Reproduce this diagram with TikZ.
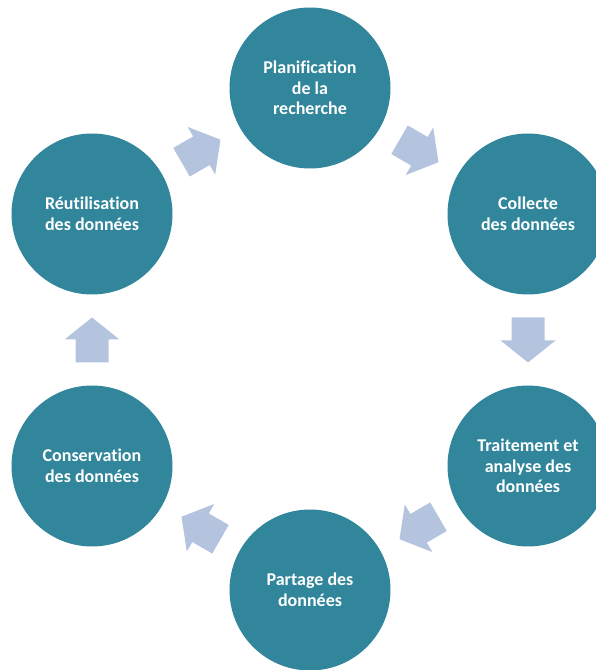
\documentclass[tikz,border=0pt]{standalone}
\usepackage{fontspec}
\setmainfont{Carlito}[Ligatures=NoCommon]
\usetikzlibrary{calc}
\definecolor{circfill}{HTML}{31869B}
\definecolor{arrowfill}{HTML}{B4C4DF}
\tikzset{
  stage/.style={circle, fill=circfill, draw=none, minimum size=161pt, inner sep=0pt,
    text=white, align=center, font=\fontsize{18}{20.5}\selectfont\bfseries},
  cyclearrow/.pic={
    \fill[arrowfill] (-22.5,-16.5) -- (0.5,-16.5) -- (0.5,-27.5) -- (22.5,0)
      -- (0.5,27.5) -- (0.5,16.5) -- (-22.5,16.5) -- cycle;
  }
}
\begin{document}
\begin{tikzpicture}[x=1pt,y=1pt]
\clip (0,0) rectangle (596,670);
\useasboundingbox (0,0) rectangle (596,670);
\node[stage] (plan) at (310,582) {Planification\\de la\\recherche};
\node[stage] (coll) at (528,456) {Collecte\\des données};
\node[stage] (trait) at (528,204) {Traitement et\\analyse des\\données};
\node[stage] (part) at (310,80) {Partage des\\données};
\node[stage] (cons) at (92,204) {Conservation\\des données};
\node[stage] (reut) at (92,456) {Réutilisation\\des données};
\pic[rotate=30] at ($(reut.center)!0.5!(plan.center)$) {cyclearrow};
\pic[rotate=-30] at ($(plan.center)!0.5!(coll.center)$) {cyclearrow};
\pic[rotate=-90] at ($(coll.center)!0.5!(trait.center)$) {cyclearrow};
\pic[rotate=-150] at ($(trait.center)!0.5!(part.center)$) {cyclearrow};
\pic[rotate=150] at ($(part.center)!0.5!(cons.center)$) {cyclearrow};
\pic[rotate=90] at ($(cons.center)!0.5!(reut.center)$) {cyclearrow};
\end{tikzpicture}
\end{document}
